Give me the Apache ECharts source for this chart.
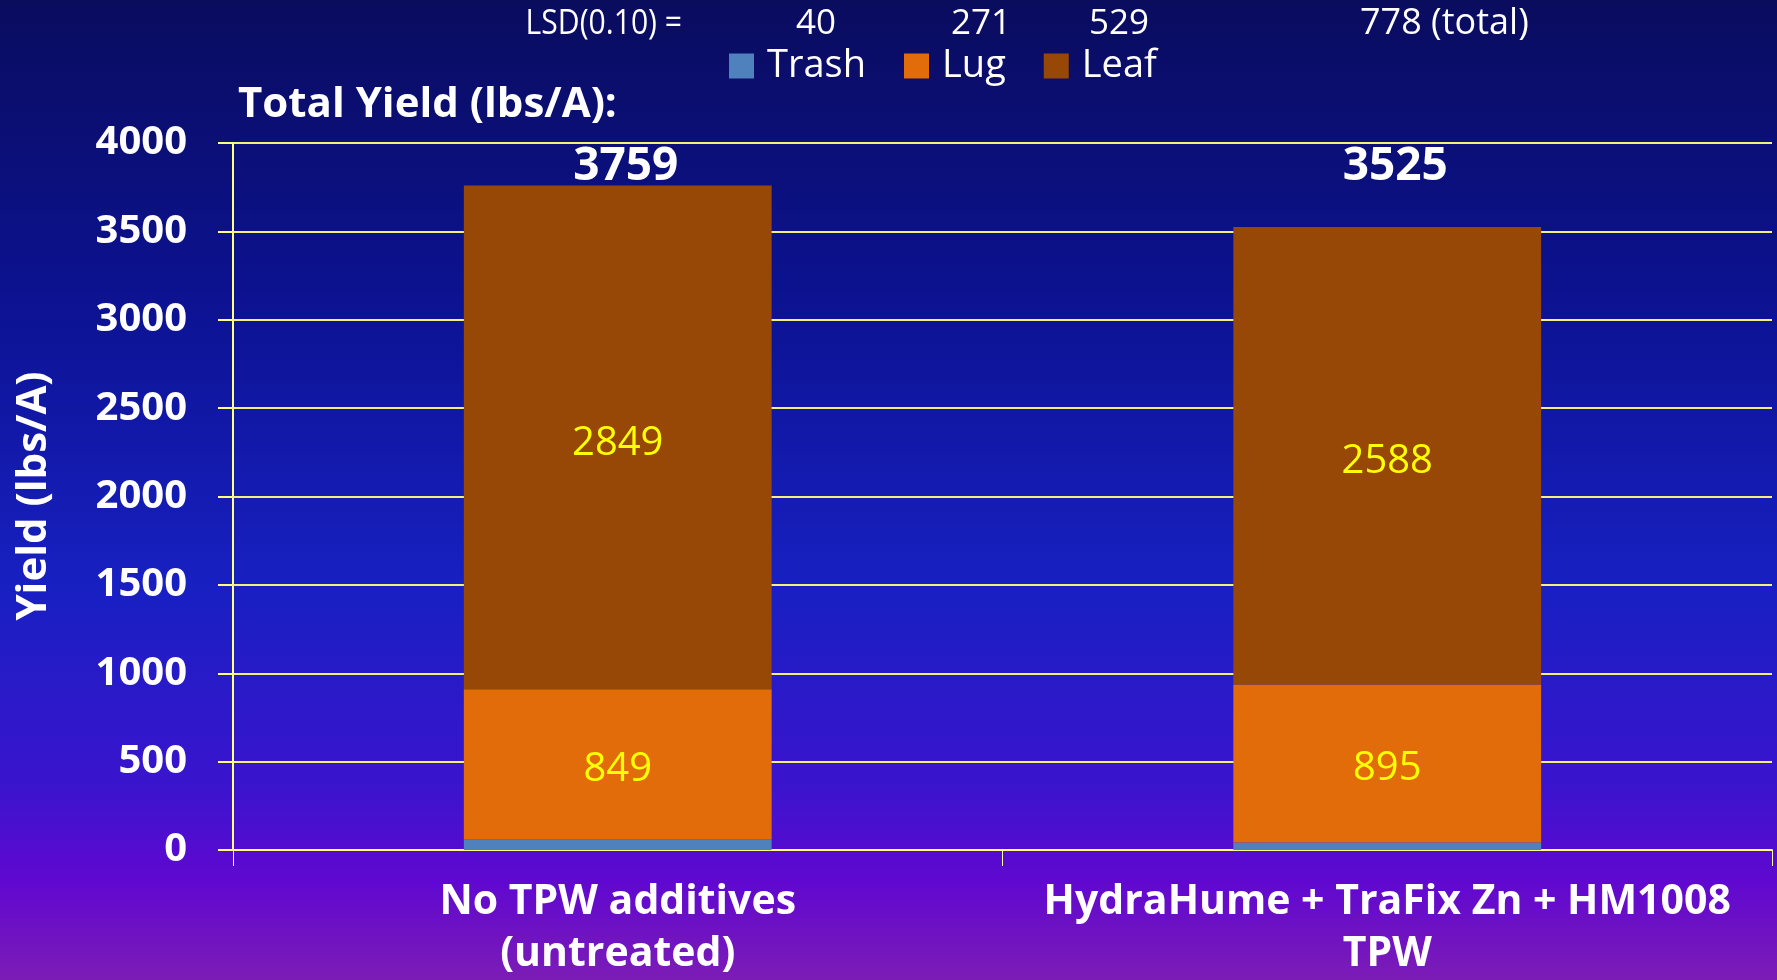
<!DOCTYPE html>
<html>
<head>
<meta charset="utf-8">
<script src="https://cdn.jsdelivr.net/npm/echarts@6/dist/echarts.min.js"></script>
<style>
html,body{margin:0;padding:0;width:1777px;height:980px;overflow:hidden;}
#c{width:1777px;height:980px;}
</style>
</head>
<body>
<div id="c"></div>
<script>
const categories = ['No TPW additives\n(untreated)', 'HydraHume + TraFix Zn + HM1008\nTPW'];
const trash = [61, 42];
const lug = [849, 895];
const leaf = [2849, 2588];
const totals = [3759, 3525];
const yTicks = [0, 500, 1000, 1500, 2000, 2500, 3000, 3500, 4000];
const lsdLabel = 'LSD(0.10) =';
const lsdValues = ['40', '271', '529', '778 (total)'];

// layout: the total labels sit in a row near the top of the plot
const TOTAL_LABEL_LEVEL = 3864;

const FONT = '"Open Sans", "Noto Sans", sans-serif';
const chart = echarts.init(document.getElementById('c'));

const bg = new echarts.graphic.LinearGradient(0, 0, 0, 1, [
  {offset: 0, color: '#0A0C5E'},
  {offset: 0.3, color: '#0C1290'},
  {offset: 0.6, color: '#1820C2'},
  {offset: 0.8, color: '#3A14CE'},
  {offset: 0.9, color: '#6008D0'},
  {offset: 1, color: '#7C1CB6'}
]);

chart.setOption({
  backgroundColor: bg,
  animation: false,
  textStyle: {fontFamily: FONT},
  grid: {left: 233, right: 5, top: 143, bottom: 129, containLabel: false},
  legend: {
    data: ['Trash', 'Lug', 'Leaf'],
    left: 724, top: 42,
    icon: 'rect', itemWidth: 25, itemHeight: 25, itemGap: 38,
    textStyle: {color: '#fff', fontSize: 38, fontFamily: FONT, padding: [0, 0, 0, 8]}
  },
  xAxis: {
    type: 'category',
    data: categories,
    axisLine: {show: true, lineStyle: {color: '#FFFF80', width: 2}},
    axisTick: {show: true, interval: 0, length: 16, lineStyle: {color: '#FFFF99', width: 1}},
    axisLabel: {interval: 0, color: '#fff', fontSize: 41, fontWeight: 'bold', lineHeight: 52, margin: 26, fontFamily: FONT}
  },
  yAxis: {
    type: 'value', min: yTicks[0], max: yTicks[yTicks.length - 1], interval: 500,
    axisLine: {show: true, lineStyle: {color: '#FFFF80', width: 2}},
    axisTick: {show: true, length: 15, lineStyle: {color: '#FFFF80', width: 2}},
    splitLine: {show: true, lineStyle: {color: '#F4F080', width: 2}},
    axisLabel: {color: '#fff', fontSize: 40, fontWeight: 'bold', margin: 46, fontFamily: FONT,
      formatter: v => String(v)}
  },
  series: [
    {name: 'Trash', type: 'bar', stack: 's', barWidth: '40%', data: trash,
     itemStyle: {color: '#4F81BD'}, label: {show: false}},
    {name: 'Lug', type: 'bar', stack: 's', data: lug,
     itemStyle: {color: '#E36C0A'},
     label: {show: true, position: 'inside', offset: [0, 5], color: '#FFFF00', fontSize: 40, fontFamily: FONT}},
    {name: 'Leaf', type: 'bar', stack: 's', data: leaf,
     itemStyle: {color: '#974806'},
     label: {show: true, position: 'inside', offset: [0, 6], color: '#FFFF00', fontSize: 40, fontFamily: FONT}},
    {name: 'Total', type: 'line', data: totals.map(() => TOTAL_LABEL_LEVEL),
     symbol: 'circle', symbolSize: 2, showSymbol: true,
     itemStyle: {color: 'rgba(0,0,0,0)', borderWidth: 0}, lineStyle: {width: 0, color: 'rgba(0,0,0,0)'},
     label: {show: true, position: 'inside', offset: [8, 0], color: '#ffffff', fontSize: 46, fontWeight: 'bold', fontFamily: FONT,
       formatter: p => String(totals[p.dataIndex])},
     z: 10}
  ],
  graphic: [
    {type: 'text', left: 238, top: 84, style: {text: 'Total Yield (lbs/A):', fill: '#fff', font: 'bold 42px ' + FONT}},
    {type: 'text', x: 34, y: 496, rotation: Math.PI / 2,
     style: {text: 'Yield (lbs/A)', fill: '#fff', font: 'bold 42px ' + FONT, textAlign: 'center', textVerticalAlign: 'middle'}},
    {type: 'text', x: 682, y: 24, scaleX: 0.86, style: {text: lsdLabel, fill: '#fff', font: '35px ' + FONT, textAlign: 'right', textVerticalAlign: 'middle'}},
    {type: 'text', x: 816, y: 24, style: {text: lsdValues[0], fill: '#fff', font: '35px ' + FONT, textAlign: 'center', textVerticalAlign: 'middle'}},
    {type: 'text', x: 981, y: 24, style: {text: lsdValues[1], fill: '#fff', font: '35px ' + FONT, textAlign: 'center', textVerticalAlign: 'middle'}},
    {type: 'text', x: 1119, y: 24, style: {text: lsdValues[2], fill: '#fff', font: '35px ' + FONT, textAlign: 'center', textVerticalAlign: 'middle'}},
    {type: 'text', x: 1360, y: 24, style: {text: lsdValues[3], fill: '#fff', font: '36px ' + FONT, textAlign: 'left', textVerticalAlign: 'middle'}}
  ]
});
</script>
</body>
</html>
